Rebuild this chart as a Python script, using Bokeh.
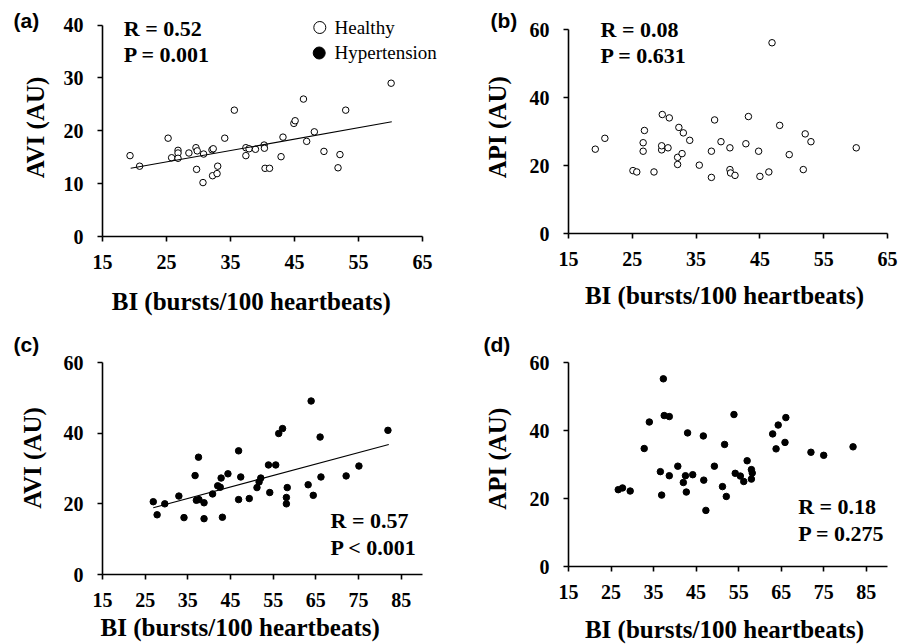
import math
from bokeh.plotting import figure
from bokeh.models import Range1d, FixedTicker
from bokeh.layouts import column, row
from bokeh.core.properties import value
from bokeh.embed import file_html
from bokeh.resources import INLINE

# ---------------- data ----------------
# (a) Healthy: BI vs AVI
healthy_bi_a = [19.3, 20.8, 25.25, 25.8, 26.8, 26.8, 26.8, 28.5, 29.6, 29.8, 29.7, 30.7, 30.8,
                32.1, 32.3, 32.2, 32.9, 33.0, 34.1, 35.6, 37.4, 37.4, 37.9, 38.9, 40.25, 40.3,
                40.4, 41.1, 42.9, 43.2, 44.9, 45.1, 46.4, 46.9, 48.1, 49.6, 51.8, 52.1, 53.0, 60.1]
healthy_avi = [15.3, 13.3, 18.6, 14.9, 16.3, 15.8, 14.8, 15.8, 16.8, 16.2, 12.7, 10.2, 15.6,
               16.4, 16.6, 11.5, 11.9, 13.3, 18.6, 23.9, 16.8, 15.3, 16.6, 16.5, 17.3, 16.7,
               12.9, 12.9, 15.1, 18.8, 21.4, 21.9, 26.0, 18.0, 19.8, 16.1, 13.0, 15.5, 23.9, 29.0]
fit_a_x = [19.4, 60.2]
fit_a_y = [12.9, 21.7]

# (b) Healthy: BI vs API
healthy_bi_b = [19.2, 20.7, 25.1, 25.7, 26.7, 26.7, 26.9, 28.4, 29.6, 29.6, 29.7, 30.6, 30.8,
                32.1, 32.1, 32.3, 32.8, 33.0, 34.0, 35.5, 37.4, 37.4, 37.9, 38.9, 40.3, 40.3,
                40.4, 41.1, 42.8, 43.2, 44.8, 45.0, 46.4, 46.9, 48.1, 49.6, 51.8, 52.1, 53.0, 60.1]
healthy_api = [24.8, 28.0, 18.5, 18.1, 26.7, 24.2, 30.3, 18.1, 24.6, 25.8, 35.0, 25.2, 34.0,
               22.4, 20.3, 31.2, 23.5, 29.6, 27.4, 20.1, 24.2, 16.5, 33.4, 27.0, 25.2, 18.8,
               17.8, 17.1, 26.4, 34.4, 24.2, 16.8, 18.1, 56.1, 31.8, 23.2, 18.8, 29.3, 27.0, 25.2]

# (c) Hypertension: BI vs AVI
htn_bi_c = [26.9, 27.8, 29.6, 32.9, 34.1, 36.7, 37.5, 37.0, 37.6, 38.8, 38.8, 40.8, 42.0,
            42.6, 42.8, 43.1, 44.4, 46.9, 46.9, 47.4, 49.4, 51.2, 51.7, 52.1, 53.9, 54.2,
            55.6, 56.3, 57.2, 58.1, 58.1, 58.3, 63.2, 63.9, 64.4, 66.0, 66.2, 72.1, 75.1, 81.9]
htn_avi = [20.6, 16.9, 20.0, 22.2, 16.1, 28.0, 33.2, 21.0, 21.2, 20.3, 15.8, 22.8, 25.1,
           24.7, 27.3, 16.2, 28.5, 35.0, 21.2, 27.6, 21.5, 24.6, 26.2, 27.3, 31.0, 23.2,
           31.0, 39.9, 41.3, 20.0, 21.8, 24.6, 25.4, 49.1, 22.4, 38.9, 27.6, 27.9, 30.7, 40.8]
fit_c_x = [26.9, 82.1]
fit_c_y = [18.9, 36.8]

# (d) Hypertension: BI vs API
htn_bi_d = [26.7, 27.7, 29.5, 32.8, 34.0, 36.6, 36.9, 37.3, 37.5, 38.7, 38.7, 40.7, 42.0,
            42.5, 42.7, 43.0, 44.2, 46.7, 46.8, 47.3, 49.3, 51.2, 51.7, 52.1, 53.9, 54.2,
            55.4, 56.2, 57.0, 58.0, 58.2, 58.0, 63.0, 63.8, 64.3, 65.9, 66.1, 72.0, 75.0, 81.9]
htn_api = [22.6, 23.1, 22.2, 34.7, 42.5, 27.9, 21.0, 55.2, 44.4, 44.1, 26.7, 29.5, 24.7,
           26.7, 21.9, 39.3, 27.0, 38.4, 25.4, 16.5, 29.5, 23.5, 35.9, 20.6, 44.7, 27.4,
           26.6, 25.0, 31.1, 28.5, 27.5, 25.7, 39.0, 34.6, 41.6, 36.5, 43.8, 33.6, 32.7, 35.2]

x_ticks_healthy = [15, 25, 35, 45, 55, 65]
x_ticks_htn = [15, 25, 35, 45, 55, 65, 75, 85]
y_ticks_avi_healthy = [0, 10, 20, 30, 40]
y_ticks_60 = [0, 20, 40, 60]

panel_letters = ["(a)", "(b)", "(c)", "(d)"]
stats_text = [("R = 0.52", "P = 0.001"), ("R = 0.08", "P = 0.631"),
              ("R = 0.57", "P < 0.001"), ("R = 0.18", "P = 0.275")]
legend_names = ["Healthy", "Hypertension"]
x_title = "BI (bursts/100 heartbeats)"
y_titles = ["AVI (AU)", "API (AU)", "AVI (AU)", "API (AU)"]

SERIF = "Liberation Serif"
SANS = "Liberation Sans"


def make_panel(W, H, L, R, T, B, xr, yr, xticks, yticks, ybounds):
    p = figure(width=W, height=H, output_backend="svg", toolbar_location=None,
               x_range=Range1d(*xr), y_range=Range1d(*yr), frame_align=False,
               min_border_left=L, min_border_right=R, min_border_top=T, min_border_bottom=B)
    p.xgrid.visible = False
    p.ygrid.visible = False
    p.outline_line_color = None
    p.background_fill_color = "white"
    p.border_fill_color = "white"
    for ax in (p.xaxis[0], p.yaxis[0]):
        ax.axis_line_color = "black"
        ax.axis_line_width = 1.6
        ax.major_tick_line_color = "black"
        ax.major_tick_line_width = 1.6
        ax.major_tick_out = 5
        ax.major_tick_in = 0
        ax.minor_tick_line_color = None
        ax.major_label_text_font = SERIF
        ax.major_label_text_font_style = "bold"
        ax.major_label_text_font_size = "20px"
        ax.major_label_text_color = "black"
    p.xaxis[0].ticker = FixedTicker(ticks=xticks)
    p.yaxis[0].ticker = FixedTicker(ticks=yticks)
    p.xaxis[0].major_label_standoff = 13
    p.yaxis[0].major_label_standoff = 14
    p.yaxis[0].bounds = ybounds
    geom = dict(L=L, T=T, fw=W - L - R, fh=H - T - B, xr=xr, yr=yr)
    return p, geom


def to_data(g, px, py):
    x0, x1 = g["xr"]
    y0, y1 = g["yr"]
    x = x0 + (px - g["L"]) / g["fw"] * (x1 - x0)
    y = y1 - (py - g["T"]) / g["fh"] * (y1 - y0)
    return x, y


def add_text(p, g, px, py, text, size, font=SERIF, style="bold", align="left", angle=0.0):
    x, y = to_data(g, px, py)
    p.text(x=[x], y=[y], text=[text], text_font=value(font), text_font_style=style,
           text_font_size=value(size), text_color="black", text_align=align,
           text_baseline="middle", angle=angle, level="overlay")


# ---------------- panels ----------------
pa, ga = make_panel(455, 320, 102, 33, 14, 84, (15, 65), (0, 42), x_ticks_healthy,
                    y_ticks_avi_healthy, (0, 40))
pb, gb = make_panel(455, 320, 113, 23, 29, 87, (15, 65), (0, 60), x_ticks_healthy,
                    y_ticks_60, (0, 60))
pc, gc = make_panel(455, 324, 102, 33, 42, 70, (15, 90), (0, 60), x_ticks_htn,
                    y_ticks_60, (0, 60))
pd, gd = make_panel(455, 324, 113, 23, 42, 78, (15, 90), (0, 60), x_ticks_htn,
                    y_ticks_60, (0, 60))

# markers
pa.scatter(healthy_bi_a, healthy_avi, size=6.5, marker="circle",
           fill_color="white", line_color="black", line_width=1)
pa.line(fit_a_x, fit_a_y, line_color="black", line_width=1.1)
pb.scatter(healthy_bi_b, healthy_api, size=6.5, marker="circle",
           fill_color="white", line_color="black", line_width=1)
pc.scatter(htn_bi_c, htn_avi, size=6.5, marker="circle",
           fill_color="black", line_color="black", line_width=1)
pc.line(fit_c_x, fit_c_y, line_color="black", line_width=1.1)
pd.scatter(htn_bi_d, htn_api, size=6.5, marker="circle",
           fill_color="black", line_color="black", line_width=1)

# legend in panel (a)
lx1, ly1 = to_data(ga, 319.3, 27)
lx2, ly2 = to_data(ga, 318.7, 52.5)
pa.scatter([lx1], [ly1], size=12, marker="circle", fill_color="white",
           line_color="black", line_width=1, level="overlay")
pa.scatter([lx2], [ly2], size=12, marker="circle", fill_color="black",
           line_color="black", line_width=1, level="overlay")
add_text(pa, ga, 334, 26.5, legend_names[0], "19px", style="normal")
add_text(pa, ga, 334, 51.8, legend_names[1], "19px", style="normal")

# statistics texts
add_text(pa, ga, 123.3, 27.5, stats_text[0][0], "22px")
add_text(pa, ga, 123.3, 54, stats_text[0][1], "22px")
add_text(pb, gb, 145, 29.3, stats_text[1][0], "22px")
add_text(pb, gb, 145, 55, stats_text[1][1], "22px")
add_text(pc, gc, 330, 200, stats_text[2][0], "22px")
add_text(pc, gc, 330, 227.3, stats_text[2][1], "22px")
add_text(pd, gd, 342.7, 186, stats_text[3][0], "22px")
add_text(pd, gd, 342.7, 213.3, stats_text[3][1], "22px")

# panel letters
add_text(pa, ga, 13, 19.5, panel_letters[0], "21px", font=SANS)
add_text(pb, gb, 35, 20, panel_letters[1], "21px", font=SANS)
add_text(pc, gc, 13, 23.7, panel_letters[2], "21px", font=SANS)
add_text(pd, gd, 28, 23.7, panel_letters[3], "21px", font=SANS)

# x-axis titles
add_text(pa, ga, 250.8, 301, x_title, "25px", align="center")
add_text(pb, gb, 269, 295, x_title, "25px", align="center")
add_text(pc, gc, 239.7, 306.7, x_title, "25px", align="center")
add_text(pd, gd, 269, 309, x_title, "25px", align="center")

# y-axis titles (rotated)
up = math.pi / 2
add_text(pa, ga, 35, 127, y_titles[0], "25px", align="center", angle=up)
add_text(pb, gb, 41.7, 126.7, y_titles[1], "25px", align="center", angle=up)
add_text(pc, gc, 32, 137.5, y_titles[2], "25px", align="center", angle=up)
add_text(pd, gd, 41.7, 138.3, y_titles[3], "25px", align="center", angle=up)

layout = column(row(pa, pb), row(pc, pd))
open("out.html", "w").write(file_html(layout, INLINE))
